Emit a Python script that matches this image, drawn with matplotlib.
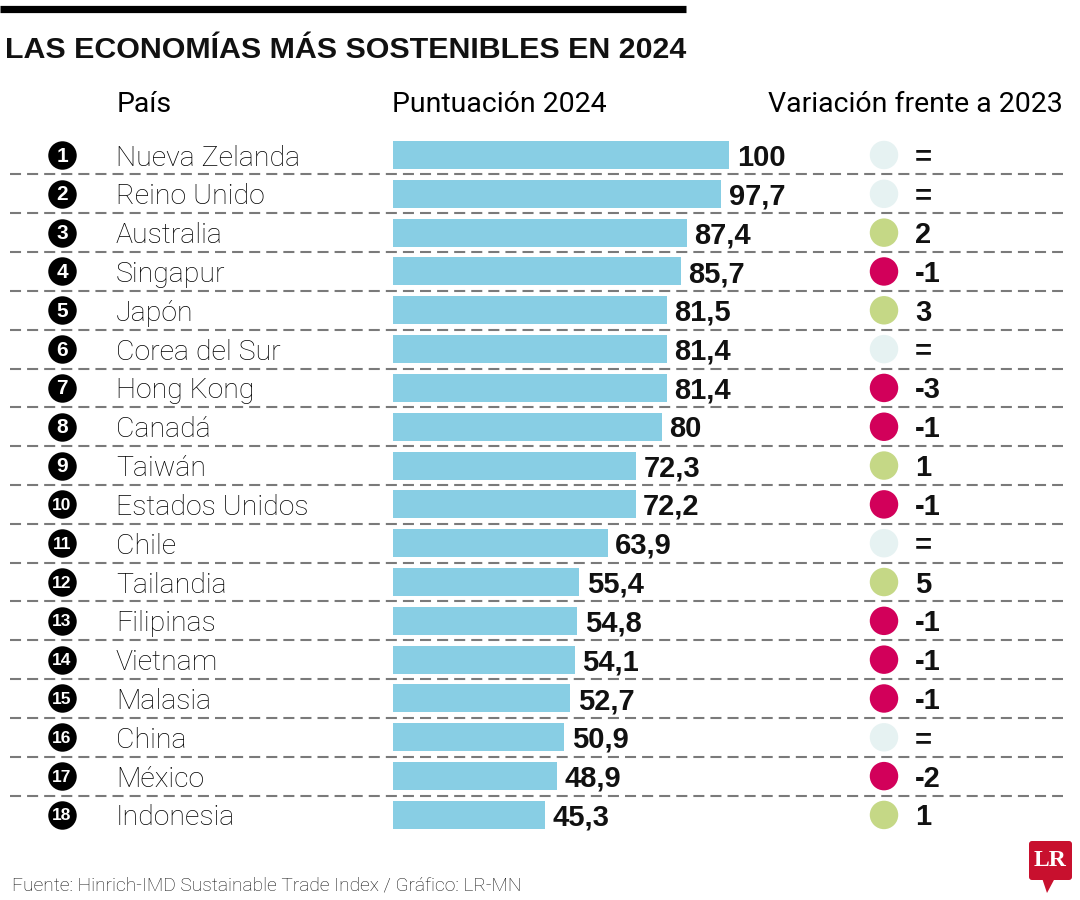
import matplotlib
matplotlib.use("Agg")
import matplotlib.pyplot as plt
from matplotlib import font_manager as fm
from matplotlib.patches import FancyBboxPatch, Polygon

# ---------------- data ----------------
countries = ["Nueva Zelanda", "Reino Unido", "Australia", "Singapur", "Japón",
             "Corea del Sur", "Hong Kong", "Canadá", "Taiwán", "Estados Unidos",
             "Chile", "Tailandia", "Filipinas", "Vietnam", "Malasia", "China",
             "México", "Indonesia"]
scores = [100, 97.7, 87.4, 85.7, 81.5, 81.4, 81.4, 80, 72.3, 72.2,
          63.9, 55.4, 54.8, 54.1, 52.7, 50.9, 48.9, 45.3]
changes = ["=", "=", "2", "-1", "3", "=", "-3", "-1", "1", "-1",
           "=", "5", "-1", "-1", "-1", "=", "-2", "1"]
title = "LAS ECONOMÍAS MÁS SOSTENIBLES EN 2024"
headers = ["País", "Puntuación 2024", "Variación frente a 2023"]
source = "Fuente: Hinrich-IMD Sustainable Trade Index / Gráfico: LR-MN"

# ---------------- fonts ----------------
entries = fm.fontManager.ttflist
names = {f.name for f in entries}

def has_weight(name, w):
    for f in entries:
        if f.name == name:
            fw = f.weight
            if isinstance(fw, str):
                fw = fm.weight_dict.get(fw, 400)
            if fw == w:
                return True
    return False

light_font, light_w = "Liberation Sans", "normal"
for cand in ["Roboto", "Open Sans", "Lato", "Noto Sans"]:
    if cand in names and has_weight(cand, 300):
        light_font, light_w = cand, "light"
        break
bold_font = "Liberation Sans" if "Liberation Sans" in names else "DejaVu Sans"
narrow_font = "Liberation Sans Narrow" if "Liberation Sans Narrow" in names else bold_font

# ---------------- colours ----------------
BAR = "#88CEE4"
NEUTRAL = "#E6F2F2"
UP = "#C5D886"
DOWN = "#D2005A"
DASH = "#7a7a7a"
INK = "#000000"

W, H = 1080, 900
fig = plt.figure(figsize=(W / 100, H / 100), dpi=100)
fig.patch.set_facecolor("white")

ax = fig.add_axes([0, 0, 1, 1])
ax.set_xlim(0, W)
ax.set_ylim(H, 0)
ax.axis("off")

row0, pitch = 155, 38.82
rows = [row0 + i * pitch for i in range(len(countries))]

# top rule
ax.plot([0, 686], [9, 9], color="black", lw=5.2, solid_capstyle="butt")

# title fitted to width
t = ax.text(5, 58, title, fontsize=22, fontweight="bold", family=narrow_font,
            va="baseline", ha="left", color="#111111")
fig.canvas.draw()
bb = t.get_window_extent()
t.set_fontsize(22 * 680 / bb.width)

# headers
hy = 112
ax.text(117, hy, headers[0], fontsize=20.5, family=light_font, fontweight="normal",
        va="baseline", ha="left", color=INK)
ax.text(392, hy, headers[1], fontsize=20.5, family=light_font, fontweight="normal",
        va="baseline", ha="left", color=INK)
ax.text(1063, hy, headers[2], fontsize=20.5, family=light_font, fontweight="normal",
        va="baseline", ha="right", color=INK)

# dashed separators
for y in rows[:-1]:
    ax.plot([10, 1063], [y + pitch / 2, y + pitch / 2], color=DASH, lw=1.5,
            dashes=(5.3, 2.9))

# rank circles
ax.scatter([62] * len(rows), rows, s=420, color="black", zorder=3, linewidths=0)
for i, y in enumerate(rows):
    n = str(i + 1)
    ax.text(62, y + 1, n, fontsize=15 if len(n) == 1 else 12.5, fontweight="bold",
            family=narrow_font, color="white", ha="center", va="center", zorder=4)
    ax.text(116, y + 10.5, countries[i], fontsize=20.5, family=light_font,
            fontweight=light_w, color=INK, ha="left", va="baseline")

# bars in their own axes (score scale)
axb = fig.add_axes([393 / W, 0, (729 - 393) / W, 1])
axb.set_xlim(0, 100)
axb.set_ylim(H, 0)
axb.axis("off")
axb.patch.set_alpha(0)
axb.barh(rows, scores, height=28, color=BAR, left=0)
for y, v in zip(rows, scores):
    lab = f"{v:g}".replace(".", ",")
    axb.annotate(lab, (v, y), xytext=(5.5, -7.6), textcoords="offset points",
                 fontsize=21, fontweight="bold", family=bold_font,
                 ha="left", va="baseline", color="#111111", annotation_clip=False)

# variation circles
cols = []
for c in changes:
    if c == "=":
        cols.append(NEUTRAL)
    elif c.startswith("-"):
        cols.append(DOWN)
    else:
        cols.append(UP)
ax.scatter([884] * len(rows), rows, s=420, color=cols, zorder=3, linewidths=0)
for y, c in zip(rows, changes):
    ax.text(915, y + 10.5, c, fontsize=21, fontweight="bold", family=bold_font,
            color="#111111", ha="left", va="baseline")

# source
ax.text(12, 890, source, fontsize=13.8, family=light_font, fontweight=light_w,
        color="#111111", ha="left", va="baseline")

# logo
box = FancyBboxPatch((1029, 841), 43, 39, boxstyle="round,pad=0,rounding_size=3",
                     facecolor="#C8102E", edgecolor="none", zorder=5)
ax.add_patch(box)
ax.add_patch(Polygon([[1042, 878], [1055, 878], [1047, 893]], closed=True,
                     facecolor="#C8102E", edgecolor="none", zorder=5))
ax.text(1050.5, 861, "LR", fontsize=17, fontweight="bold", family="Liberation Serif",
        color="white", ha="center", va="center", zorder=6)

fig.savefig("out.png", dpi=100, facecolor="white")
